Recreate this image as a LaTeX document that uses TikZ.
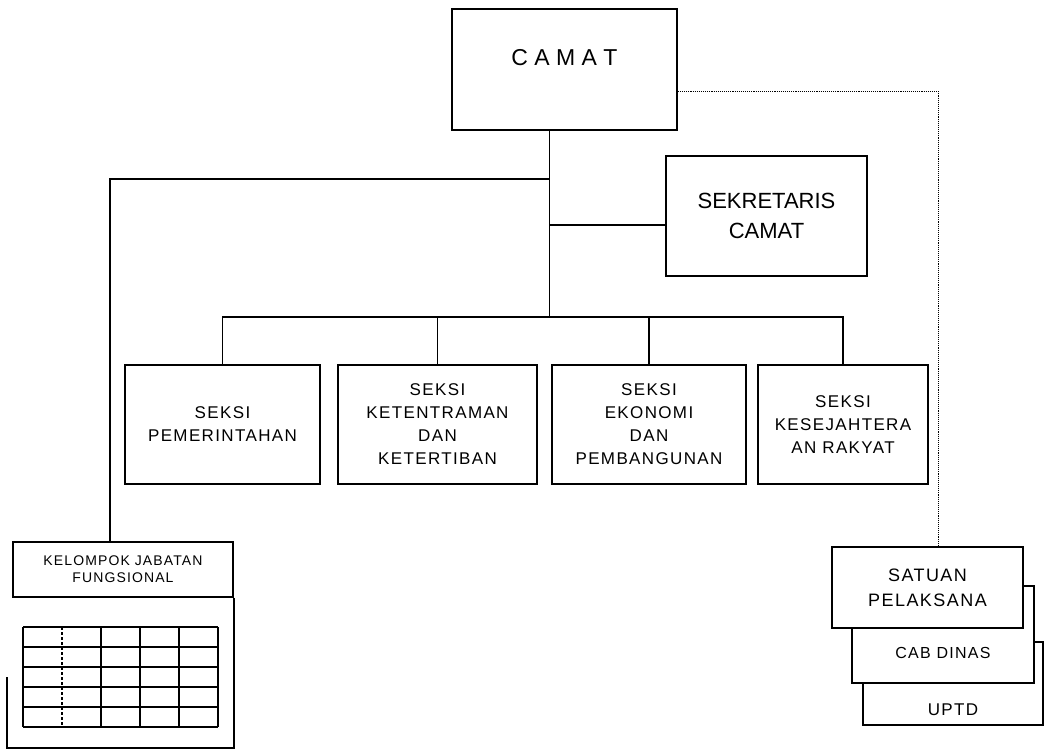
\documentclass[tikz,border=0pt]{standalone}
\usepackage{fontspec}
\setmainfont{Liberation Sans}[LetterSpace=8]
\newfontfamily\plainsans{Liberation Sans}
\usetikzlibrary{positioning,calc}

\begin{document}
\begin{tikzpicture}[x=1pt, y=-1pt,
  unitbox/.style={draw, line width=1.7pt, fill=white, align=center, inner sep=3pt},
  link/.style={line width=1.7pt},
  dotlink/.style={line width=1.1pt, densely dotted},
  cell/.style={line width=1.3pt}]
  \useasboundingbox (0,0) rectangle (1047,751);
  \def\tabx{23}
  \def\taby{627}
  \def\cellw{39}
  \def\cellh{20}

  % head and secretary
  \node[unitbox, minimum width=225pt, minimum height=121pt, text height=10pt, text depth=17pt,
        font=\plainsans\fontsize{23}{27}\selectfont] (camat) at (564.5,69.5) {C A M A T};
  \node[unitbox, minimum width=201pt, minimum height=120pt,
        font=\plainsans\fontsize{22}{30}\selectfont] (sek) at (766.5,216) {SEKRETARIS\\CAMAT};

  % the four sections
  \node[unitbox, minimum width=195pt, minimum height=119pt, font=\fontsize{17}{23}\selectfont]
    (s1) at (222.5,424.5) {SEKSI\\PEMERINTAHAN};
  \node[unitbox, minimum width=199pt, minimum height=119pt, font=\fontsize{17}{23}\selectfont]
    (s2) at (437.5,424.5) {SEKSI\\KETENTRAMAN\\DAN\\KETERTIBAN};
  \node[unitbox, minimum width=194pt, minimum height=119pt, font=\fontsize{17}{23}\selectfont]
    (s3) at (649,424.5) {SEKSI\\EKONOMI\\DAN\\PEMBANGUNAN};
  \node[unitbox, minimum width=170pt, minimum height=119pt, font=\fontsize{17}{23}\selectfont]
    (s4) at (843,424.5) {SEKSI\\KESEJAHTERA\\AN RAKYAT};

  % functional group with its table
  \node[unitbox, minimum width=220pt, minimum height=55pt, font=\fontsize{14}{17}\selectfont]
    (kjf) at (123,569.5) {KELOMPOK JABATAN\\FUNGSIONAL};
  \coordinate (frameend) at (7,677);
  \draw[link] (kjf.south east) -- ++(0,150) -| (frameend);
  \foreach \r in {0,...,5}
    \draw[cell] (\tabx,{\taby+\r*\cellh}) -- ++(5*\cellw,0);
  \foreach \c/\st in {0/solid,1/densely dashed,2/solid,3/solid,4/solid,5/solid}
    \draw[cell,\st] ({\tabx+\c*\cellw},\taby) -- ++(0,5*\cellh);

  % executing units, stacked
  \node[unitbox, minimum width=180pt, minimum height=83pt, text height=64pt, text depth=0.8pt,
        font=\fontsize{17}{20}\selectfont] (uptd) at (953,683.5) {UPTD};
  \node[unitbox, minimum width=182pt, minimum height=97pt, text height=50pt, text depth=1.6pt,
        font=\fontsize{16}{19}\selectfont] (cab) at (943,634.5) {CAB DINAS};
  \node[unitbox, minimum width=191pt, minimum height=81pt, font=\fontsize{18}{25}\selectfont]
    (sp) at (927.5,587.5) {SATUAN\\PELAKSANA};

  % connectors
  \coordinate (ct) at ([xshift=-15pt]camat.south);
  \coordinate (lj) at ($(ct)+(0,48)$);
  \coordinate (bj) at ($(ct)+(0,186)$);
  \coordinate (sj) at ([yshift=-9pt]sek.west);
  \coordinate (dj) at ([yshift=-22pt]camat.east);
  \draw[link] (ct) -- (bj);
  \draw[link] (lj) -| ([xshift=-13pt]kjf.north);
  \draw[link] (ct |- sj) -- (sj);
  \draw[link] (s1.north) |- (bj) -| (s4.north);
  \draw[link] (bj -| s2.north) -- (s2.north);
  \draw[link] (bj -| s3.north) -- (s3.north);
  \draw[dotlink] (dj) -| ([xshift=11pt]sp.north);
\end{tikzpicture}
\end{document}
